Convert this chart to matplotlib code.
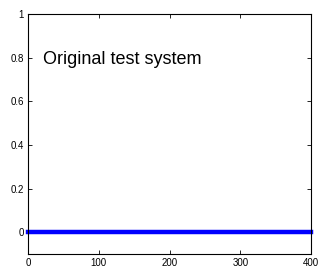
import matplotlib
matplotlib.use('Agg')
import matplotlib.pyplot as plt

plt.rcParams['font.family'] = ['Liberation Sans', 'DejaVu Sans']

# data
x_vals = [0, 400]
y_vals = [0, 0]
x_ticks = [0, 100, 200, 300, 400]
y_ticks = [0, 0.2, 0.4, 0.6, 0.8, 1]
y_ticklabels = ['0', '0.2', '0.4', '0.6', '0.8', '1']
label = 'Original test system'

fig = plt.figure(figsize=(3.2, 2.68), dpi=100)
ax = fig.add_axes([0.0875, 0.052, 0.885, 0.896])

ax.plot(x_vals, y_vals, color='#0000ff', linewidth=3.2, solid_capstyle='projecting', clip_on=False)
ax.text(21, 0.79, label, fontsize=13, va='center', ha='left')

ax.set_xlim(0, 400)
ax.set_ylim(-0.1, 1)
ax.set_xticks(x_ticks)
ax.set_yticks(y_ticks)
ax.set_yticklabels(y_ticklabels)
ax.tick_params(direction='in', length=3, width=0.6, labelsize=7, pad=3,
               top=True, right=True)
for s in ax.spines.values():
    s.set_linewidth(0.8)

fig.savefig('out.png', dpi=100)
